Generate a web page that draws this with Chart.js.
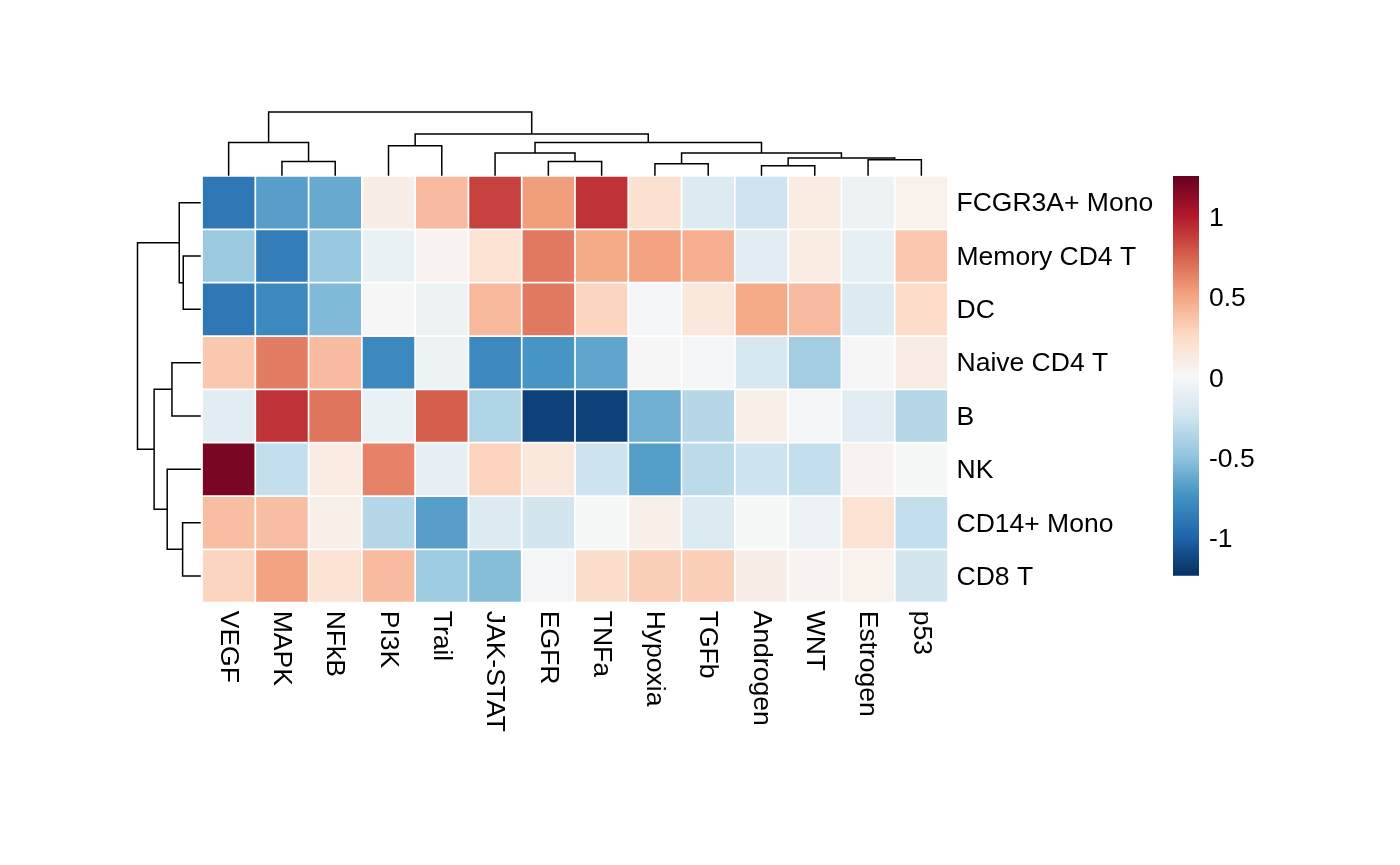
<!DOCTYPE html>
<html><head><meta charset="utf-8">
<script src="https://cdn.jsdelivr.net/npm/chart.js@4/dist/chart.umd.min.js"></script>
<style>
html,body{margin:0;padding:0;background:#fff;}
#wrap{position:relative;width:1400px;height:865px;overflow:hidden;}
#main{position:absolute;left:0;top:0;}
#legend{position:absolute;left:1150px;top:150px;}
</style></head><body>
<div id="wrap"><canvas id="main" width="1400" height="865"></canvas><canvas id="legend" width="160" height="460"></canvas></div>
<script>
// ---- data ----
const pathways = ['VEGF','MAPK','NFkB','PI3K','Trail','JAK-STAT','EGFR','TNFa','Hypoxia','TGFb','Androgen','WNT','Estrogen','p53'];
const cellTypes = ['FCGR3A+ Mono','Memory CD4 T','DC','Naive CD4 T','B','NK','CD14+ Mono','CD8 T'];
const fcgr3aMono = [-0.88,-0.67,-0.62, 0.10, 0.41, 0.87, 0.54, 0.92, 0.21,-0.16,-0.24, 0.12,-0.05, 0.07];
const memoryCD4T = [-0.45,-0.85,-0.46,-0.07, 0.05, 0.20, 0.67, 0.49, 0.52, 0.46,-0.12, 0.12,-0.10, 0.35];
const dc         = [-0.88,-0.79,-0.54, 0.02,-0.05, 0.42, 0.67, 0.29,-0.01, 0.15, 0.49, 0.41,-0.16, 0.25];
const naiveCD4T  = [ 0.35, 0.66, 0.41,-0.79,-0.05,-0.79,-0.72,-0.64, 0.02,-0.01,-0.19,-0.42, 0.02, 0.11];
const bCell      = [-0.12, 0.92, 0.69,-0.07, 0.77,-0.37,-1.15,-1.15,-0.60,-0.34, 0.09,-0.01,-0.12,-0.34];
const nk         = [ 1.20,-0.29, 0.12, 0.64,-0.09, 0.30, 0.15,-0.25,-0.68,-0.32,-0.25,-0.29, 0.05, 0.01];
const cd14Mono   = [ 0.40, 0.40, 0.09,-0.34,-0.67,-0.16,-0.22, 0.01, 0.09,-0.16, 0.01,-0.06, 0.20,-0.29];
const cd8T       = [ 0.29, 0.52, 0.20, 0.41,-0.44,-0.52,-0.01, 0.24, 0.32, 0.32, 0.10, 0.05, 0.07,-0.22];
const legendTicks = [-1, -0.5, 0, 0.5, 1];
const colorMin = -1.23, colorMax = 1.26;
// hclust-style merges: negative = leaf (1-based), positive = earlier merge (1-based); height relative to root
const colMerges = [
  [-11,-12,0.148],[-9,-10,0.179],[-2,-3,0.216],[-7,-8,0.216],[-13,-14,0.243],
  [1,5,0.270],[-6,4,0.349],[2,6,0.349],[-4,-5,0.465],[7,8,0.514],[-1,3,0.517],[9,10,0.651],[11,12,1.0]
];
const rowMerges = [
  [-2,-3,0.268],[-7,-8,0.278],[-1,1,0.332],[-4,-5,0.449],[-6,2,0.525],[4,5,0.734],[3,6,1.0]
];

const matrix = [fcgr3aMono, memoryCD4T, dc, naiveCD4T, bCell, nk, cd14Mono, cd8T];
const rdbu = ['#053061','#2166AC','#4393C3','#92C5DE','#D1E5F0','#F7F7F7','#FDDBC7','#F4A582','#D6604D','#B2182B','#67001F'];
function hex2rgb(h){return [parseInt(h.slice(1,3),16),parseInt(h.slice(3,5),16),parseInt(h.slice(5,7),16)];}
const rdbuRGB = rdbu.map(hex2rgb);
function valueToColor(v){
  let t = (v - colorMin) / (colorMax - colorMin);
  t = Math.max(0, Math.min(1, t));
  const p = t * (rdbuRGB.length - 1);
  const i = Math.min(Math.floor(p), rdbuRGB.length - 2);
  const f = p - i;
  const a = rdbuRGB[i], b = rdbuRGB[i+1];
  const c = a.map((x, k) => Math.round(x + (b[k] - x) * f));
  return `rgb(${c[0]},${c[1]},${c[2]})`;
}

const FONT = "'Liberation Sans', Arial, Helvetica, sans-serif";
const FONT_SIZE = 26.5;
Chart.defaults.font.family = FONT;
Chart.defaults.color = '#000';

const COL_TREE_PX = 63, ROW_TREE_PX = 62.5;

function drawTree(ctx, merges, leafPos, toPx, horizontal) {
  const nodes = [];
  const get = (ref) => ref < 0 ? {pos: leafPos(-ref - 1), h: 0} : nodes[ref - 1];
  ctx.beginPath();
  merges.forEach(([a, b, h]) => {
    const A = get(a), B = get(b);
    const ph = toPx(h);
    if (horizontal) {
      ctx.moveTo(A.pos, toPx(A.h)); ctx.lineTo(A.pos, ph);
      ctx.lineTo(B.pos, ph); ctx.lineTo(B.pos, toPx(B.h));
    } else {
      ctx.moveTo(toPx(A.h), A.pos); ctx.lineTo(ph, A.pos);
      ctx.lineTo(ph, B.pos); ctx.lineTo(toPx(B.h), B.pos);
    }
    nodes.push({pos: (A.pos + B.pos) / 2, h: h});
  });
  ctx.stroke();
}

const decor = {
  id: 'decor',
  afterDraw(chart) {
    const {ctx, chartArea, scales} = chart;
    const xs = scales.x, ys = scales.y;
    ctx.save();
    ctx.strokeStyle = '#000';
    ctx.lineWidth = 1.5;
    ctx.lineCap = 'square';
    const y0 = chartArea.top - 1;
    drawTree(ctx, colMerges, i => xs.getPixelForValue(i), h => y0 - h * COL_TREE_PX, true);
    const x0 = chartArea.left - 2;
    drawTree(ctx, rowMerges, i => ys.getPixelForValue(i), h => x0 - h * ROW_TREE_PX, false);
    // column labels, rotated to read downward
    ctx.fillStyle = '#000';
    ctx.font = `${FONT_SIZE}px ${FONT}`;
    ctx.textAlign = 'left';
    ctx.textBaseline = 'middle';
    pathways.forEach((name, i) => {
      ctx.save();
      ctx.translate(xs.getPixelForValue(i) - 0.5, chartArea.bottom + 8);
      ctx.rotate(Math.PI / 2);
      ctx.fillText(name, 0, 0);
      ctx.restore();
    });
    ctx.restore();
  }
};

new Chart(document.getElementById('main'), {
  type: 'bar',
  data: {
    labels: pathways,
    datasets: cellTypes.map((name, r) => ({
      label: name,
      data: pathways.map(() => [r - 0.5, r + 0.5]),
      backgroundColor: matrix[r].map(valueToColor),
      borderColor: '#ffffff',
      borderWidth: 1.2,
      borderSkipped: false,
      grouped: false,
      categoryPercentage: 1,
      barPercentage: 1
    }))
  },
  options: {
    responsive: false,
    animation: false,
    events: [],
    layout: {padding: {left: 202, top: 176, right: 152, bottom: 262.3}},
    plugins: {legend: {display: false}, tooltip: {enabled: false}},
    scales: {
      x: {type: 'category', display: false, offset: true},
      y: {
        type: 'linear', position: 'right', reverse: true, min: -0.5, max: 7.5,
        grid: {display: false, drawTicks: false}, border: {display: false},
        afterBuildTicks: s => { s.ticks = cellTypes.map((_, i) => ({value: i})); },
        afterFit: s => { s.width = 300; },
        ticks: {autoSkip: false, padding: 8.5, labelOffset: 1.5, font: {size: FONT_SIZE}, color: '#000',
                callback: v => cellTypes[v]}
      }
    }
  },
  plugins: [decor]
});

new Chart(document.getElementById('legend'), {
  type: 'bar',
  data: {
    labels: ['scale'],
    datasets: [{
      data: [[colorMin, colorMax]],
      backgroundColor: (c) => {
        const chart = c.chart;
        if (!chart.chartArea) return '#F7F7F7';
        const ys = chart.scales.y;
        const g = chart.ctx.createLinearGradient(0, ys.getPixelForValue(colorMin), 0, ys.getPixelForValue(colorMax));
        rdbu.forEach((col, i) => g.addColorStop(i / (rdbu.length - 1), col));
        return g;
      },
      borderWidth: 0,
      categoryPercentage: 1,
      barPercentage: 1
    }]
  },
  options: {
    responsive: false,
    animation: false,
    events: [],
    layout: {padding: {left: 23, top: 26, right: 31, bottom: 34.3}},
    plugins: {legend: {display: false}, tooltip: {enabled: false}},
    scales: {
      x: {type: 'category', display: false, offset: true},
      y: {
        type: 'linear', position: 'right', min: colorMin, max: colorMax,
        grid: {display: false, drawTicks: false}, border: {display: false},
        afterBuildTicks: s => { s.ticks = legendTicks.map(v => ({value: v})); },
        afterFit: s => { s.width = 80; },
        ticks: {autoSkip: false, padding: 10, labelOffset: 1, font: {size: FONT_SIZE}, color: '#000',
                callback: v => String(v)}
      }
    }
  }
});
</script>
</body></html>
